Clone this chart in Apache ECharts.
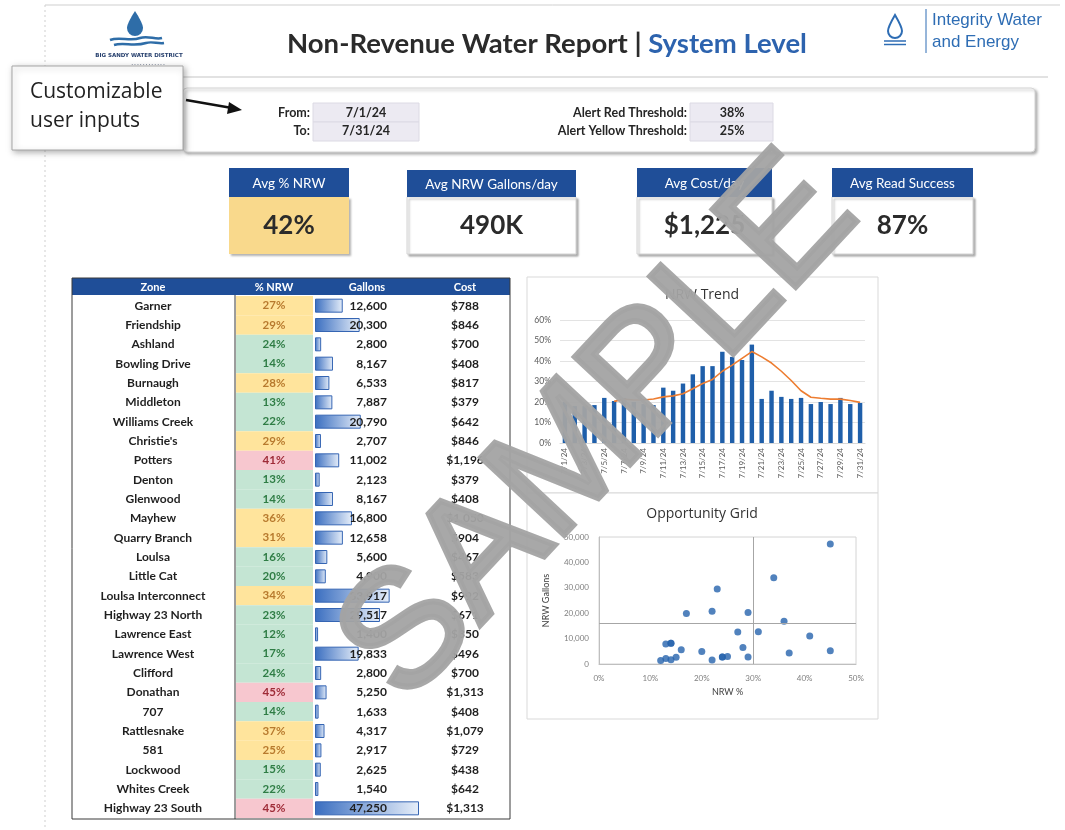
<!DOCTYPE html>
<html>
<head>
<meta charset="utf-8">
<title>Non-Revenue Water Report | System Level</title>
<script src="https://cdn.jsdelivr.net/npm/echarts@6.0.0/dist/echarts.min.js"></script>
<style>
html, body { margin: 0; padding: 0; background: #fff; }
#report { width: 1065px; height: 830px; }
</style>
</head>
<body>
<div id="report"></div>
<script>
// user inputs
var dateFrom = '7/1/24';
var dateTo = '7/31/24';
var alertRed = 0.38;
var alertYellow = 0.25;

// kpi cards
var kpiNames = ['Avg % NRW', 'Avg NRW Gallons/day', 'Avg Cost/day', 'Avg Read Success'];
var kpiValues = ['42%', '490K', '$1,225', '87%'];

// zone table
var zones = ['Garner', 'Friendship', 'Ashland', 'Bowling Drive', 'Burnaugh', 'Middleton', 'Williams Creek',
  "Christie's", 'Potters', 'Denton', 'Glenwood', 'Mayhew', 'Quarry Branch', 'Loulsa', 'Little Cat',
  'Loulsa Interconnect', 'Highway 23 North', 'Lawrence East', 'Lawrence West', 'Clifford', 'Donathan',
  '707', 'Rattlesnake', '581', 'Lockwood', 'Whites Creek', 'Highway 23 South'];
var zoneNrw = [0.27, 0.29, 0.24, 0.14, 0.28, 0.13, 0.22, 0.29, 0.41, 0.13, 0.14, 0.36, 0.31, 0.16, 0.20,
  0.34, 0.23, 0.12, 0.17, 0.24, 0.45, 0.14, 0.37, 0.25, 0.15, 0.22, 0.45];
var zoneGallons = [12600, 20300, 2800, 8167, 6533, 7887, 20790, 2707, 11002, 2123, 8167, 16800, 12658, 5600, 4900,
  33917, 29517, 1400, 19833, 2800, 5250, 1633, 4317, 2917, 2625, 1540, 47250];
var zoneCost = [788, 846, 700, 408, 817, 379, 642, 846, 1196, 379, 408, 1050, 904, 467, 583,
  992, 671, 350, 496, 700, 1313, 408, 1079, 729, 438, 642, 1313];

// daily trend
var trendDates = ['7/1/24', '7/2/24', '7/3/24', '7/4/24', '7/5/24', '7/6/24', '7/7/24', '7/8/24', '7/9/24', '7/10/24',
  '7/11/24', '7/12/24', '7/13/24', '7/14/24', '7/15/24', '7/16/24', '7/17/24', '7/18/24', '7/19/24', '7/20/24',
  '7/21/24', '7/22/24', '7/23/24', '7/24/24', '7/25/24', '7/26/24', '7/27/24', '7/28/24', '7/29/24', '7/30/24', '7/31/24'];
var trendNrw = [0.20, 0.18, 0.18, 0.185, 0.22, 0.205, 0.22, 0.20, 0.19, 0.185, 0.27, 0.255, 0.29, 0.335, 0.375,
  0.375, 0.445, 0.42, 0.405, 0.48, 0.215, 0.255, 0.225, 0.215, 0.22, 0.19, 0.20, 0.19, 0.22, 0.19, 0.195];
var trendAvg = [null, null, null, null, null, 0.203, 0.214, 0.21, 0.21, 0.215, 0.225, 0.23, 0.24, 0.265, 0.29,
  0.31, 0.35, 0.38, 0.413, 0.446, 0.42, 0.39, 0.35, 0.305, 0.255, 0.223, 0.218, 0.214, 0.214, 0.207, 0.198];

// opportunity grid reference lines
var gridNrwLine = 0.30;
var gridGallonsLine = 16000;

var FONT = 'Lato, "Open Sans", sans-serif';
var BLUE = '#1F4E98';

// logo shapes
echarts.graphic.registerShape('dropLeft', echarts.graphic.extendPath(
  'M135,11 C135,11 127,23 127,28 A8,8 0 0 0 143,28 C143,23 135,11 135,11 Z', {}));
echarts.graphic.registerShape('wavesLeft', echarts.graphic.extendPath(
  'M110,40 C120,36 130,42 140,38 C148,35 155,40 162,38 M114,45 C124,42 134,47 146,43 C152,41 158,44 164,43', {}));
echarts.graphic.registerShape('dropRight', echarts.graphic.extendPath(
  'M895,15 C895,15 888,27 888,31 A7,7 0 0 0 902,31 C902,27 895,15 895,15 Z', {}));

function pct(v) { return Math.round(v * 100) + '%'; }
function num(v) { return v.toLocaleString('en-US'); }
function nrwLevel(v) { return v >= alertRed ? 'red' : (v >= alertYellow ? 'yellow' : 'green'); }
var levelFill = { red: '#F7C7CF', yellow: '#FFE49C', green: '#C4E5D3' };
var levelText = { red: '#9E2B37', yellow: '#B87A2E', green: '#2F7D45' };

function txt(x, y, text, size, opts) {
  opts = opts || {};
  return {
    type: 'text', x: x, y: y, z: opts.z || 1,
    style: {
      text: text,
      fill: opts.color || '#262626',
      font: (opts.weight || 'normal') + ' ' + size + 'px ' + (opts.family || FONT),
      align: opts.align || 'center',
      verticalAlign: 'middle'
    }
  };
}
function box(x, y, w, h, fill, stroke, extra) {
  var el = { type: 'rect', shape: { x: x, y: y, width: w, height: h, r: (extra && extra.r) || 0 },
    style: { fill: fill, stroke: stroke || null, lineWidth: 1 }, z: (extra && extra.z) || 0 };
  if (extra && extra.shadow) {
    el.style.shadowBlur = extra.shadow; el.style.shadowColor = 'rgba(0,0,0,0.3)';
    el.style.shadowOffsetX = 2; el.style.shadowOffsetY = 2;
  }
  return el;
}

var g = [];
// page frame
g.push({ type: 'line', shape: { x1: 45, y1: 5, x2: 1060, y2: 5 }, style: { stroke: '#cfcfcf', lineWidth: 1 } });
g.push({ type: 'line', shape: { x1: 45, y1: 5, x2: 45, y2: 830 }, style: { stroke: '#cfcfcf', lineWidth: 1, lineDash: [2, 3] } });
g.push({ type: 'line', shape: { x1: 182, y1: 77, x2: 1048, y2: 77 }, style: { stroke: '#e2e2e2', lineWidth: 2 } });

// left logo
g.push({ type: 'dropLeft', style: { fill: '#2E6DA8' } });
g.push({ type: 'wavesLeft', style: { stroke: '#2E6DA8', lineWidth: 2.5, fill: null } });
g.push(txt(139, 56, 'BIG SANDY WATER DISTRICT', 5.5, { weight: 'bold', color: '#27406e', family: '"DejaVu Sans", sans-serif' }));
g.push(txt(148, 63, '. . . . . . . . . . . .', 6, { weight: 'bold', color: '#55607a' }));

// title
g.push({ type: 'text', x: 547, y: 44, style: {
  text: '{a|Non-Revenue Water Report | }{b|System Level}', align: 'center', verticalAlign: 'middle',
  rich: {
    a: { font: 'bold 27.5px ' + FONT, fill: '#2b2b2b' },
    b: { font: 'bold 27.5px ' + FONT, fill: '#2D63AE' }
  } } });

// right logo
g.push({ type: 'dropRight', style: { fill: null, stroke: '#2E6DB4', lineWidth: 2 } });
g.push({ type: 'line', shape: { x1: 884, y1: 41, x2: 906, y2: 41 }, style: { stroke: '#2E6DB4', lineWidth: 1.5 } });
g.push({ type: 'line', shape: { x1: 884, y1: 44.5, x2: 906, y2: 44.5 }, style: { stroke: '#2E6DB4', lineWidth: 1.5 } });
g.push({ type: 'line', shape: { x1: 926, y1: 9, x2: 926, y2: 53 }, style: { stroke: '#2E6DB4', lineWidth: 1 } });
g.push(txt(932, 20, 'Integrity Water', 17, { align: 'left', color: '#2E6DB4', family: '"Liberation Sans", Arial, sans-serif' }));
g.push(txt(932, 42, 'and Energy', 17, { align: 'left', color: '#2E6DB4', family: '"Liberation Sans", Arial, sans-serif' }));

// user input box
g.push(box(183, 88, 852, 64, '#fff', '#d6d6d6', { r: 4, shadow: 3 }));
g.push(box(313, 103, 106, 19, '#ECEAF2', '#dcdae4'));
g.push(box(313, 122, 106, 19, '#ECEAF2', '#dcdae4'));
g.push(box(690, 103, 83, 19, '#ECEAF2', '#dcdae4'));
g.push(box(690, 122, 83, 19, '#ECEAF2', '#dcdae4'));
g.push(txt(310, 113, 'From:', 12.5, { weight: 'bold', align: 'right' }));
g.push(txt(310, 131, 'To:', 12.5, { weight: 'bold', align: 'right' }));
g.push(txt(366, 113, dateFrom, 12.5, { weight: 'bold' }));
g.push(txt(366, 131, dateTo, 12.5, { weight: 'bold' }));
g.push(txt(687, 113, 'Alert Red Threshold:', 12.5, { weight: 'bold', align: 'right' }));
g.push(txt(687, 131, 'Alert Yellow Threshold:', 12.5, { weight: 'bold', align: 'right' }));
g.push(txt(732, 113, pct(alertRed), 12.5, { weight: 'bold' }));
g.push(txt(732, 131, pct(alertYellow), 12.5, { weight: 'bold' }));

// callout
g.push(box(12, 66, 171, 84, '#fff', '#a6a6a6', { shadow: 6, z: 5 }));
g.push(txt(30, 92, 'Customizable', 21, { align: 'left', color: '#222', family: '"Open Sans", sans-serif', z: 6 }));
g.push(txt(30, 121, 'user inputs', 21, { align: 'left', color: '#222', family: '"Open Sans", sans-serif', z: 6 }));
g.push({ type: 'line', z: 6, shape: { x1: 186, y1: 100, x2: 232, y2: 108 }, style: { stroke: '#111', lineWidth: 2.5 } });
g.push({ type: 'polygon', z: 6, shape: { points: [[242, 110], [229, 102], [227, 114]] }, style: { fill: '#111' } });

// kpi cards
var kpiBoxes = [[229, 168, 120], [407, 170, 169], [637, 168, 135], [832, 168, 141]];
kpiBoxes.forEach(function (b, i) {
  var hy = 197;
  g.push(box(b[0], hy, b[2], 57, i === 0 ? '#F9D98C' : '#fff', i === 0 ? null : '#d4d4d4', { shadow: 2 }));
  g.push(box(b[0], b[1], b[2], hy - b[1], BLUE, null));
  g.push(txt(b[0] + b[2] / 2, (b[1] + hy) / 2 + 1, kpiNames[i], 13.5, { color: '#fff' }));
  g.push(txt(b[0] + b[2] / 2, 226, kpiValues[i], 26, { weight: 'bold', color: '#2b2b2b' }));
});

// table frame and header
g.push(box(72, 278, 438, 17, BLUE, null));
g.push(txt(153, 287, 'Zone', 11, { weight: 'bold', color: '#fff' }));
g.push(txt(274, 287, '% NRW', 11, { weight: 'bold', color: '#fff' }));
g.push(txt(367, 287, 'Gallons', 11, { weight: 'bold', color: '#fff' }));
g.push(txt(465, 287, 'Cost', 11, { weight: 'bold', color: '#fff' }));
g.push({ type: 'rect', z: 4, shape: { x: 72, y: 278, width: 438, height: 541 }, style: { fill: null, stroke: '#3a3a3a', lineWidth: 1 } });
g.push({ type: 'line', z: 4, shape: { x1: 235, y1: 295, x2: 235, y2: 819 }, style: { stroke: '#3a3a3a', lineWidth: 1 } });

// chart panels
g.push(box(527, 277, 351, 216, '#fff', '#d9d9d9', { z: -1 }));
g.push(box(527, 493, 351, 226, '#fff', '#d9d9d9', { z: -1 }));
g.push(txt(702, 295, 'NRW Trend', 14, { color: '#333', family: '"Open Sans", sans-serif' }));
g.push(txt(702, 514, 'Opportunity Grid', 14, { color: '#333', family: '"Open Sans", sans-serif' }));

// watermark
g.push({ type: 'text', x: 600, y: 430, rotation: 47 * Math.PI / 180, z: 100,
  style: { text: 'SAMPLE', font: 'normal 165px "Liberation Sans", Arial, sans-serif', fill: '#a3a3a3',
    stroke: '#a3a3a3', lineWidth: 6, lineJoin: 'round', align: 'center', verticalAlign: 'middle', opacity: 0.95 } });

function renderZoneRow(params, api) {
  var i = params.dataIndex;
  var pt = api.coord([0, i]);
  var h = api.size([0, 1])[1];
  var lv = nrwLevel(zoneNrw[i]);
  var f = 'bold 12px ' + FONT;
  return {
    type: 'group',
    children: [
      { type: 'rect', shape: { x: 236, y: pt[1] - h / 2, width: 77, height: h }, style: { fill: levelFill[lv] } },
      { type: 'text', style: { x: 274, y: pt[1], text: pct(zoneNrw[i]), fill: levelText[lv], font: 'bold 11.5px ' + FONT, align: 'center', verticalAlign: 'middle' } },
      { type: 'text', style: { x: 387, y: pt[1], text: num(zoneGallons[i]), fill: '#1f1f1f', font: f, align: 'right', verticalAlign: 'middle' } },
      { type: 'text', style: { x: 465, y: pt[1], text: '$' + num(zoneCost[i]), fill: '#1f1f1f', font: f, align: 'center', verticalAlign: 'middle' } }
    ]
  };
}

var axisGray = '#595959';
var option = {
  backgroundColor: '#fff',
  animation: false,
  textStyle: { fontFamily: FONT },
  graphic: { elements: g },
  grid: [
    { left: 560, top: 320, width: 305, height: 123 },
    { left: 599, top: 537, width: 257, height: 127, show: true, borderColor: '#d4d4d4', borderWidth: 1, backgroundColor: 'transparent' },
    { left: 315, top: 296, width: 104, height: 522 }
  ],
  xAxis: [
    { type: 'category', gridIndex: 0, data: trendDates,
      axisLine: { lineStyle: { color: '#d9d9d9' } }, axisTick: { show: false },
      axisLabel: { rotate: 90, interval: 1, fontSize: 8, color: axisGray, margin: 5 } },
    { type: 'value', gridIndex: 1, min: 0, max: 0.5, interval: 0.1,
      name: 'NRW %', nameLocation: 'middle', nameGap: 24, nameTextStyle: { fontSize: 9, color: '#404040' },
      axisLine: { show: true, lineStyle: { color: '#bfbfbf' } }, axisTick: { show: false }, splitLine: { show: false },
      axisLabel: { formatter: pct, fontSize: 8, color: '#7f7f7f', margin: 10 } },
    { type: 'value', gridIndex: 2, min: 0, max: 47250, show: false }
  ],
  yAxis: [
    { type: 'value', gridIndex: 0, min: 0, max: 0.6, interval: 0.1,
      axisLine: { show: false }, axisTick: { show: false },
      splitLine: { lineStyle: { color: '#e3e3e3' } },
      axisLabel: { formatter: pct, fontSize: 8.5, color: axisGray, margin: 9 } },
    { type: 'value', gridIndex: 1, min: 0, max: 50000, interval: 10000,
      name: 'NRW Gallons', nameLocation: 'middle', nameGap: 48, nameTextStyle: { fontSize: 9, color: '#404040' },
      axisLine: { show: true, lineStyle: { color: '#bfbfbf' } }, axisTick: { show: false }, splitLine: { show: false },
      axisLabel: { formatter: num, fontSize: 8, color: '#7f7f7f', margin: 10 } },
    { type: 'category', gridIndex: 2, data: zones, inverse: true,
      axisLine: { show: false }, axisTick: { show: false },
      axisLabel: { margin: 162, align: 'center', fontSize: 12, fontWeight: 'bold', color: '#1f1f1f' } }
  ],
  series: [
    { type: 'bar', xAxisIndex: 0, yAxisIndex: 0, data: trendNrw, barWidth: '45%',
      itemStyle: { color: '#1F5FAA' } },
    { type: 'line', xAxisIndex: 0, yAxisIndex: 0, data: trendAvg, showSymbol: false,
      lineStyle: { color: '#ED7D31', width: 1.6 }, itemStyle: { color: '#ED7D31' } },
    { type: 'scatter', xAxisIndex: 1, yAxisIndex: 1, symbolSize: 7,
      data: zones.map(function (z, i) { return [zoneNrw[i], zoneGallons[i]]; }),
      itemStyle: { color: '#2563AC' },
      markLine: { silent: true, symbol: 'none', label: { show: false },
        lineStyle: { color: '#a6a6a6', type: 'solid', width: 1 },
        data: [{ xAxis: gridNrwLine }, { yAxis: gridGallonsLine }] } },
    { type: 'bar', xAxisIndex: 2, yAxisIndex: 2, data: zoneGallons, barWidth: 14,
      itemStyle: { borderColor: '#3565B3', borderWidth: 1,
        color: new echarts.graphic.LinearGradient(0, 0, 1, 0, [
          { offset: 0, color: '#3A6EC0' }, { offset: 1, color: '#E6EEF9' }]) } },
    { type: 'custom', xAxisIndex: 2, yAxisIndex: 2, clip: false, z: 3,
      data: zones.map(function (z, i) { return [0, i]; }),
      encode: { x: 0, y: 1 },
      renderItem: renderZoneRow }
  ]
};

var chart = echarts.init(document.getElementById('report'));
chart.setOption(option);
</script>
</body>
</html>
